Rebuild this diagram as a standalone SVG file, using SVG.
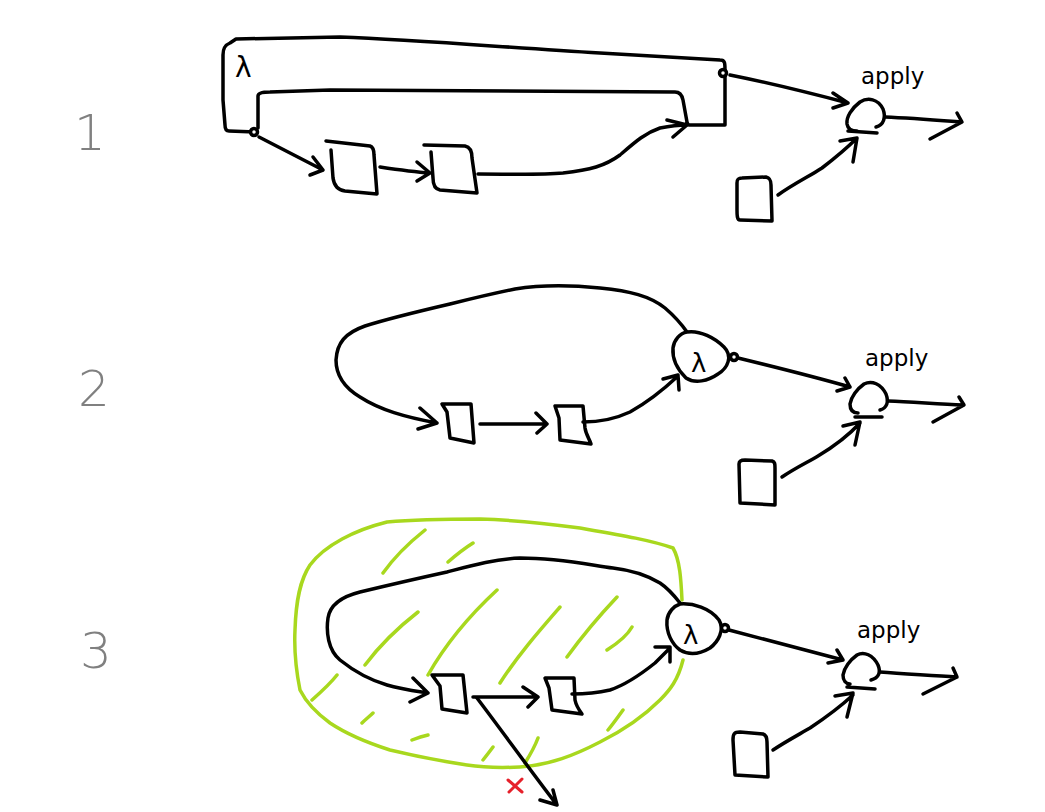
<svg xmlns="http://www.w3.org/2000/svg" width="1045" height="812" viewBox="0 0 1045 812">
<style>
.s{fill:none;stroke:#000;stroke-width:3.5;stroke-linecap:round;stroke-linejoin:round}
.w{fill:#fff;stroke:#000;stroke-width:3.5;stroke-linecap:round;stroke-linejoin:round}
.g{fill:none;stroke:#a8d81e;stroke-width:3.5;stroke-linecap:round;stroke-linejoin:round}
.num{font-family:"DejaVu Sans","Liberation Sans",sans-serif;font-size:50px;fill:#808080;font-weight:200}
.lab{font-family:"DejaVu Sans","Liberation Sans",sans-serif;font-size:23px;fill:#000}
.lam{font-family:"DejaVu Sans","Liberation Sans",sans-serif;font-size:28px;fill:#000}
</style>
<rect width="1045" height="812" fill="#fff"/>
<g id="labels">
<text class="num" x="74" y="150">1</text>
<text class="num" x="78" y="406">2</text>
<text class="num" x="80" y="668">3</text>
</g>
<g id="region3">
<path class="g" d="M683,660 C678,680 670,690 660,700 C640,720 620,732 600,742 C575,755 550,765 520,767 C500,768 480,767 467,765 C440,761 415,756 390,750 C365,742 345,733 330,723 C315,712 305,700 300,690 C296,670 294,650 295,630 C296,600 300,580 310,565 C325,545 355,530 387,522 C420,519 450,519 480,519 C515,520 550,524 580,528 C620,535 650,540 673,548 C680,560 681,580 682,600"/>
<path class="g" d="M383,573 C395,556 410,542 425,530 M448,562 C456,555 465,548 473,543 M365,665 C380,645 400,626 418,612 M428,675 C445,645 470,615 497,590 M500,683 C518,655 540,630 560,607 M567,657 C583,635 600,615 617,597 M607,650 C618,643 627,636 632,627 M312,700 C321,692 330,684 337,675 M362,723 C366,719 370,716 373,713 M412,740 C417,738 423,736 428,735 M483,760 C487,755 490,751 493,747 M525,763 C530,755 535,746 538,738 M608,730 C613,724 618,717 623,710"/>
</g>
<g id="connectors">
<path class="s" d="M259,137 L323,170 M313,157 L323,170 L310,175"/>
<path class="s" d="M380,167 C400,170 415,172 430,173 M417,162 L430,173 L417,181"/>
<path class="s" d="M478,174 C510,174 540,175 563,173 C590,170 605,166 620,155 C635,142 645,133 660,128 C670,126 680,125 687,125 M667,120 L687,125 L673,137"/>
<path class="s" d="M730,75 C770,83 810,93 848,103 M833,93 L848,103 L833,108"/>
<path class="s" d="M885,117 C910,118 935,120 961,122 M957,113 L962,122 L930,139"/>
<path class="s" d="M778,195 C795,183 810,176 822,168 C835,158 847,148 857,138 M840,141 L857,138 L853,162"/>
<path class="s" d="M687,332 C680,322 672,314 665,308 C650,296 630,291 600,288 C570,285 540,285 515,289 C490,294 470,299 450,304 C420,311 390,318 365,326 C345,333 337,343 336,360 C336,375 345,388 360,397 C380,410 405,417 437,423 M420,408 L437,423 L418,429"/>
<path class="s" d="M480,424 L547,424 M536,413 L547,424 L537,433"/>
<path class="s" d="M583,422 C600,422 615,419 630,412 C648,402 663,390 678,376 M663,379 L678,375 L679,390"/>
<path class="s" d="M738,358 C775,367 815,377 850,387 M837,391 L850,387 L845,378"/>
<path class="s" d="M888,401 C913,402 938,404 963,405 M959,397 L964,405 L933,422"/>
<path class="s" d="M782,477 C795,468 808,462 818,456 C833,447 848,436 860,423 M843,426 L860,422 L855,445"/>
<path class="s" d="M680,603 C673,594 666,587 660,583 C645,574 630,570 613,568 C590,565 560,558 520,558 C495,559 470,566 447,572 C415,579 385,586 360,592 C340,597 330,605 328,618 C326,632 328,650 340,660 C355,672 370,680 387,685 C400,689 415,691 428,693 M413,678 L428,693 L410,702"/>
<path class="s" d="M473,697 L538,697 M523,687 L538,697 L528,707"/>
<path class="s" d="M572,694 C585,694 597,693 610,690 C625,685 640,675 655,663 C660,658 665,653 670,648 M655,647 L670,647 L670,662"/>
<path class="s" d="M477,698 C505,735 530,770 557,805 M540,800 L557,805 L553,790"/>
<path class="s" d="M729,630 C767,640 805,650 843,660 M828,663 L843,660 L837,650"/>
<path class="s" d="M880,672 C905,674 930,675 957,677 M953,668 L957,677 L923,694"/>
<path class="s" d="M773,750 C785,742 798,735 810,728 C825,718 840,707 853,695 M835,696 L853,693 L847,717"/>
</g>
<g id="lambda1">
<path class="s" d="M255,132 L229,131 C226,131 225,128 225,125 L223,100 L223,55 C223,48 225,45 230,43 L236,39 L340,37 C420,40 500,47 600,53 C650,56 690,58 720,60 C725,60 725,63 725,70 L725,125 L689,125"/>
<path class="s" d="M258,128 L258,96 C258,93 262,92 270,92 L330,90 L675,92 C680,92 682,95 683,100 L687,122"/>
<circle class="w" cx="254" cy="132" r="3.5"/>
<circle class="w" cx="723" cy="73" r="3.5"/>
<circle cx="687" cy="124" r="2.5" fill="#000"/>
<text class="lam" x="235" y="77">λ</text>
</g>
<g id="box1a"><path class="s" d="M326,141 L370,146 C373,147 374,150 374,155 L377,194 L345,191 C337,190 334,185 333,178 L331,150"/></g>
<g id="box1b"><path class="s" d="M424,145 L465,146 C470,147 472,152 472,158 L477,193 L440,190 C434,189 433,184 433,178 L431,152"/></g>
<g id="box1c"><path class="s" d="M737,183 C737,179 738,178 742,178 L766,177 C770,178 771,180 771,185 L772,221 L740,220 C737,220 737,215 737,210 Z"/></g>
<g id="apply1">
<path class="s" d="M876,127 C884,125 886,117 883,109 C878,99 868,97 860,102 C852,108 846,117 847,124 C848,130 853,131 857,131 M848,131 L877,133"/>
<text class="lab" x="861" y="84">apply</text>
</g>
<g id="box2a"><path class="s" d="M442,404 L471,404 L474,443 L450,438 L447,412 Z"/></g>
<g id="box2b"><path class="s" d="M555,406 L583,406 L585,428 C586,435 590,440 591,444 L560,440 L559,418 Z"/></g>
<g id="lambda2">
<path class="w" d="M687,332 C700,330 715,338 724,347 C733,356 728,368 718,374 C708,381 695,384 686,378 C678,370 672,360 673,348 C674,340 680,333 687,332 Z"/>
<circle class="w" cx="734" cy="357" r="3.5"/>
<text class="lam" x="691" y="372" style="font-size:26px">λ</text>
</g>
<g id="box2c"><path class="s" d="M739,464 C739,461 741,460 745,460 L772,461 C775,462 775,464 775,468 L775,505 L740,503 Z"/></g>
<g id="apply2">
<path class="s" d="M880,410 C887,408 889,402 886,394 C881,384 872,380 864,384 C857,389 851,397 850,404 C850,410 853,413 858,413 M855,417 L882,417"/>
<text class="lab" x="865" y="366">apply</text>
</g>
<g id="box3a"><path class="s" d="M432,675 L463,675 L467,713 L442,709 L440,686 Z"/></g>
<g id="box3b"><path class="s" d="M545,678 L574,678 L575,700 C576,705 579,710 582,714 L552,710 L549,688 Z"/></g>
<g id="lambda3">
<path class="w" d="M680,604 C693,603 710,608 719,620 C725,630 718,642 710,648 C700,654 690,656 680,650 C672,644 666,633 667,620 C668,612 674,606 680,604 Z"/>
<circle class="w" cx="725" cy="628" r="3.5"/>
<text class="lam" x="683" y="644" style="font-size:26px">λ</text>
</g>
<g id="box3c"><path class="s" d="M733,740 C733,734 734,732 740,732 L763,734 C766,735 767,737 767,742 L768,777 L735,775 Z"/></g>
<g id="apply3">
<path class="s" d="M871,680 C879,678 881,672 878,665 C873,655 864,651 857,655 C850,660 844,668 843,675 C843,681 846,684 850,684 M847,687 L875,689"/>
<text class="lab" x="857" y="638">apply</text>
</g>
<g id="cross"><path d="M508,780 L522,792 M522,779 L509,792" fill="none" stroke="#e6202a" stroke-width="3" stroke-linecap="round"/></g>
</svg>
